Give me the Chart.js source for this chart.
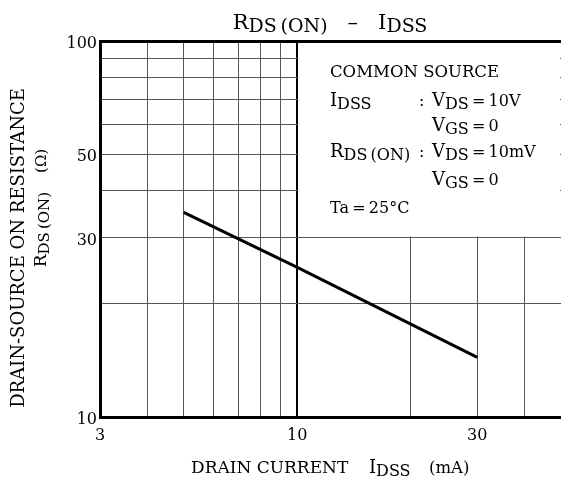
<!DOCTYPE html>
<html>
<head>
<meta charset="utf-8">
<script src="https://cdn.jsdelivr.net/npm/chart.js@4.4.0/dist/chart.umd.min.js"></script>
<style>
  html, body { margin: 0; padding: 0; background: #fff; }
  #wrap { width: 561px; height: 483px; }
</style>
</head>
<body>
<div id="wrap"><canvas id="chart"></canvas></div>
<script>
// drain current (mA) vs on resistance (ohm)
var currentMA = [5, 10, 30];
var resistance = [35, 25, 14.4];

var xTicks = [3, 4, 5, 6, 7, 8, 9, 10, 20, 30, 40, 50];
var xLabels = [3, 10, 30];
var yTicks = [10, 20, 30, 40, 50, 60, 70, 80, 90, 100];
var yLabels = [10, 30, 50, 100];

var FONT = '"DejaVu Serif", serif';
var TH = '\u2009';

// draws a run of text pieces; sub pieces are smaller and lowered
function drawRun(ctx, parts, x, y, align) {
	var total = 0;
	parts.forEach(function(p){
		ctx.font = p.size + 'px ' + FONT;
		p.w = ctx.measureText(p.t).width;
		total += p.w;
	});
	var cx = x;
	if (align === 'center') cx = x - total / 2;
	if (align === 'right') cx = x - total;
	ctx.textAlign = 'left';
	ctx.textBaseline = 'alphabetic';
	parts.forEach(function(p){
		ctx.font = p.size + 'px ' + FONT;
		ctx.fillText(p.t, cx, y + (p.dy || 0));
		cx += p.w;
	});
}

var textPlugin = {
	id: 'textPlugin',
	beforeDatasetsDraw: function(chart){
		var ctx = chart.ctx;
		var xs = chart.scales.x, ys = chart.scales.y;
		// white note box over the grid, upper right
		var left = xs.getPixelForValue(10) + 1;
		var top = ys.getPixelForValue(100) + 2;
		var bottom = ys.getPixelForValue(30) - 1;
		ctx.save();
		ctx.fillStyle = '#fff';
		ctx.fillRect(left, top, chart.chartArea.right - 1 - left, bottom - top);
		ctx.restore();
	},
	afterDraw: function(chart){
		var ctx = chart.ctx;
		ctx.save();
		ctx.fillStyle = '#000';

		// title
		drawRun(ctx, [
			{t: 'R', size: 21},
			{t: 'DS' + TH + '(ON)', size: 19, dy: 3},
			{t: '   \u2013   ', size: 21},
			{t: 'I', size: 21},
			{t: 'DSS', size: 19, dy: 3}
		], 330, 29, 'center');

		// x title
		drawRun(ctx, [{t: 'DRAIN CURRENT', size: 17}], 191, 473, 'left');
		drawRun(ctx, [{t: 'I', size: 18}, {t: 'DSS', size: 16, dy: 3}], 369, 473, 'left');
		drawRun(ctx, [{t: '(mA)', size: 16.5}], 429, 473, 'left');

		// y title, rotated
		ctx.save();
		ctx.translate(24, 248);
		ctx.rotate(-Math.PI / 2);
		drawRun(ctx, [{t: 'DRAIN-SOURCE ON RESISTANCE', size: 18}], 0, 0, 'center');
		ctx.restore();
		ctx.save();
		ctx.translate(46, 208);
		ctx.rotate(-Math.PI / 2);
		drawRun(ctx, [
			{t: 'R', size: 17},
			{t: 'DS' + TH + '(ON)', size: 15, dy: 3},
			{t: '    (\u03a9)', size: 15}
		], 0, 0, 'center');
		ctx.restore();

		// conditions note
		var nx = 330, cx = 419, vx = 432;
		drawRun(ctx, [{t: 'COMMON SOURCE', size: 16.5}], nx, 77, 'left');
		drawRun(ctx, [{t: 'I', size: 18}, {t: 'DSS', size: 16, dy: 3}], nx, 106, 'left');
		drawRun(ctx, [{t: ':', size: 16}], cx, 106, 'left');
		drawRun(ctx, [{t: 'V', size: 18}, {t: 'DS', size: 16, dy: 3}, {t: TH + '=' + TH + '10V', size: 16}], vx, 106, 'left');
		drawRun(ctx, [{t: 'V', size: 18}, {t: 'GS', size: 16, dy: 3}, {t: TH + '=' + TH + '0', size: 16}], vx, 131, 'left');
		drawRun(ctx, [{t: 'R', size: 18}, {t: 'DS' + TH + '(ON)', size: 16, dy: 3}], nx, 157, 'left');
		drawRun(ctx, [{t: ':', size: 16}], cx, 157, 'left');
		drawRun(ctx, [{t: 'V', size: 18}, {t: 'DS', size: 16, dy: 3}, {t: TH + '=' + TH + '10mV', size: 16}], vx, 157, 'left');
		drawRun(ctx, [{t: 'V', size: 18}, {t: 'GS', size: 16, dy: 3}, {t: TH + '=' + TH + '0', size: 16}], vx, 185, 'left');
		drawRun(ctx, [{t: 'Ta' + TH + '=' + TH + '25\u00b0C', size: 16}], nx, 213, 'left');
		ctx.restore();
	}
};

var points = [];
for (var i = 0; i < currentMA.length; i++) {
	points.push({x: currentMA[i], y: resistance[i]});
}

new Chart(document.getElementById('chart'), {
	type: 'scatter',
	data: {
		datasets: [{
			data: points,
			showLine: true,
			borderColor: '#000',
			borderWidth: 3,
			pointRadius: 0,
			tension: 0
		}]
	},
	options: {
		responsive: true,
		maintainAspectRatio: false,
		animation: false,
		layout: {padding: {top: 41, left: 0, right: 0, bottom: 0}},
		plugins: {
			legend: {display: false},
			tooltip: {enabled: false},
			title: {display: false}
		},
		scales: {
			x: {
				type: 'logarithmic',
				min: 3,
				max: 50,
				afterBuildTicks: function(scale){
					scale.ticks = xTicks.map(function(v){ return {value: v}; });
				},
				afterFit: function(scale){
					scale.height = 66;
					scale.paddingRight = 0;
				},
				ticks: {
					autoSkip: false,
					maxRotation: 0,
					padding: 9,
					color: '#000',
					font: {family: FONT, size: 16},
					callback: function(v){ return xLabels.indexOf(v) >= 0 ? String(v) : ''; }
				},
				grid: {
					drawTicks: false,
					color: function(c){ return c.tick && c.tick.value === 10 ? '#000' : '#555'; },
					lineWidth: function(c){ return c.tick && c.tick.value === 10 ? 2 : 1; }
				},
				border: {display: true, color: '#000', width: 3}
			},
			y: {
				type: 'logarithmic',
				min: 10,
				max: 100,
				afterBuildTicks: function(scale){
					scale.ticks = yTicks.map(function(v){ return {value: v}; });
				},
				afterFit: function(scale){ scale.width = 100; },
				ticks: {
					autoSkip: false,
					padding: 3,
					labelOffset: 3,
					color: '#000',
					font: {family: FONT, size: 16},
					callback: function(v){ return yLabels.indexOf(v) >= 0 ? String(v) : ''; }
				},
				grid: {
					drawTicks: false,
					color: function(c){ return c.tick && c.tick.value === 100 ? '#000' : '#555'; },
					lineWidth: function(c){ return c.tick && c.tick.value === 100 ? 3 : 1; }
				},
				border: {display: true, color: '#000', width: 3}
			}
		}
	},
	plugins: [textPlugin]
});
</script>
</body>
</html>
